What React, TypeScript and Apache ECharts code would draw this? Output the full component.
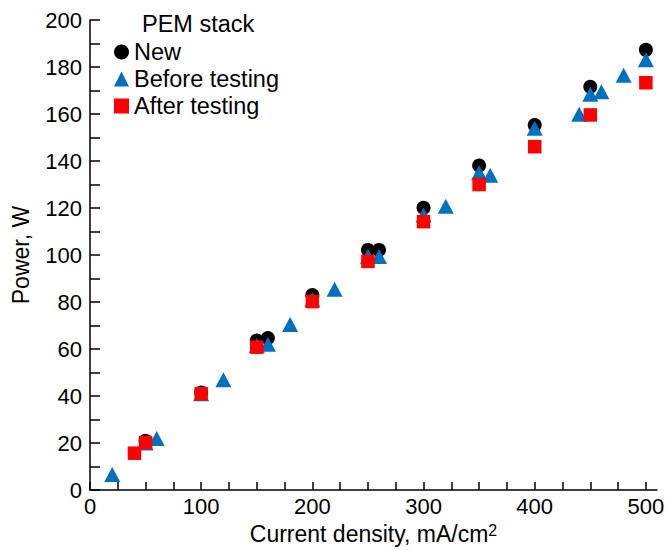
import React, { useEffect, useRef } from "react";
import * as echarts from "echarts";

const FONT = "'Liberation Sans', Arial, sans-serif";

const newX = [50, 100, 150, 160, 200, 250, 260, 300, 350, 400, 450, 500];
const newY = [21, 41.5, 63.6, 64.7, 83, 102.2, 102.2, 120.1, 138.1, 155.3, 171.6, 187.3];

const beforeX = [20, 50, 60, 100, 120, 150, 160, 180, 200, 220, 250, 260, 300, 320, 350, 360, 400, 440, 450, 460, 480, 500];
const beforeY = [6.6, 20, 22, 41, 47, 61.5, 62, 70.5, 81, 85.4, 99.5, 99.4, 117, 120.8, 135, 133.9, 153.9, 159.9, 168.4, 169.5, 176.5, 183.1];

const afterX = [40, 50, 100, 150, 200, 250, 300, 350, 400, 450, 500];
const afterY = [15.7, 20.2, 41, 60.8, 80.2, 97.3, 114.2, 130, 146.1, 159.6, 173.3];

const xLabels = [0, 100, 200, 300, 400, 500];
const yLabels = [0, 20, 40, 60, 80, 100, 120, 140, 160, 180, 200];

const zip = (xs: number[], ys: number[]) => xs.map((x, i) => [x, ys[i]]);

export default function App() {
  const ref = useRef<HTMLDivElement>(null);
  useEffect(() => {
    if (!ref.current) return;
    const chart = echarts.init(ref.current, null, { renderer: "svg" });
    const axisLine = { show: true, lineStyle: { color: "#000", width: 1.5 } };
    const labelBase = { color: "#000", fontSize: 22, fontFamily: FONT };
    chart.setOption({
      animation: false,
      backgroundColor: "#fff",
      title: {
        text: "PEM stack",
        left: 142,
        top: 12,
        padding: 0,
        textStyle: { color: "#000", fontSize: 23.5, fontWeight: "normal", fontFamily: FONT },
      },
      legend: {
        orient: "vertical",
        left: 114,
        top: 40,
        padding: 0,
        itemWidth: 15,
        itemHeight: 15,
        itemGap: 3,
        textStyle: { color: "#000", fontSize: 23.5, fontFamily: FONT, lineHeight: 24 },
        data: ["New", "Before testing", "After testing"],
      },
      grid: { left: 90, top: 20, right: 11, bottom: 56, containLabel: false },
      xAxis: {
        type: "value",
        min: 0,
        max: 510,
        interval: 25,
        axisLine,
        axisTick: { show: true, inside: true, length: 8, lineStyle: { color: "#000", width: 1.5 } },
        splitLine: { show: false },
        axisLabel: {
          ...labelBase,
          margin: 5,
          showMaxLabel: false,
          formatter: (v: number) => (xLabels.indexOf(v) >= 0 ? String(v) : ""),
        },
        name: "Current density, mA/cm{sup|2}",
        nameLocation: "middle",
        nameGap: 29,
        nameTextStyle: {
          color: "#000",
          fontSize: 23,
          fontFamily: FONT,
          rich: { sup: { fontSize: 16, fontFamily: FONT, color: "#000", verticalAlign: "top", padding: [0, 0, 6, 0] } },
        },
      },
      yAxis: {
        type: "value",
        min: 0,
        max: 200,
        interval: 10,
        axisLine,
        axisTick: { show: true, inside: true, length: 10, lineStyle: { color: "#000", width: 1.5 } },
        splitLine: { show: false },
        axisLabel: {
          ...labelBase,
          margin: 8,
          formatter: (v: number) => (yLabels.indexOf(v) >= 0 ? String(v) : ""),
        },
        name: "Power, W",
        nameLocation: "middle",
        nameGap: 58,
        nameTextStyle: { color: "#000", fontSize: 23, fontFamily: FONT },
      },
      series: [
        {
          name: "New",
          type: "scatter",
          symbol: "circle",
          symbolSize: 14,
          itemStyle: { color: "#000", opacity: 1 },
          data: zip(newX, newY),
          z: 2,
        },
        {
          name: "Before testing",
          type: "scatter",
          symbol: "triangle",
          symbolSize: [16, 15],
          itemStyle: { color: "#0070C0", opacity: 1 },
          data: zip(beforeX, beforeY),
          z: 3,
        },
        {
          name: "After testing",
          type: "scatter",
          symbol: "rect",
          symbolSize: 13.5,
          itemStyle: { color: "#FF0000", opacity: 1 },
          data: zip(afterX, afterY),
          z: 4,
        },
      ],
    });
    return () => chart.dispose();
  }, []);
  return <div ref={ref} style={{ width: 668, height: 550, position: "absolute", left: 0, top: 0 }} />;
}
